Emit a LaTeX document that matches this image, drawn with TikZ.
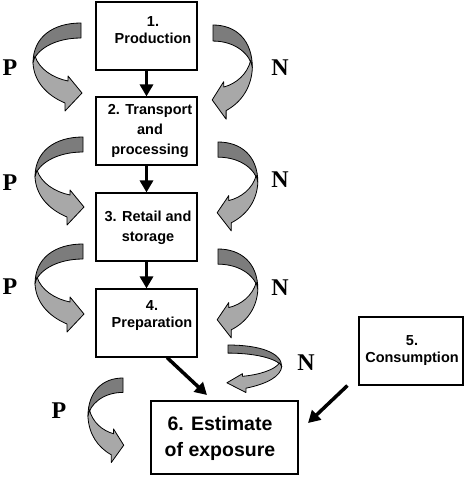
\documentclass[tikz,border=0pt]{standalone}
\usepackage{fontspec}
\setmainfont{Liberation Sans}
\newfontfamily\serifpn{Liberation Serif}
\usetikzlibrary{arrows.meta,calc}
\definecolor{ribdark}{HTML}{7C7C7C}
\definecolor{riblight}{HTML}{A8A8A8}
\tikzset{
  box/.style={draw=black, line width=1.1pt, fill=white, inner sep=0pt},
  boxtext/.style={font=\bfseries\fontsize{14.5}{17}\selectfont, align=center, inner sep=0pt},
  bigtext/.style={font=\bfseries\fontsize{19.5}{26}\selectfont, align=center, inner sep=0pt},
  pnlabel/.style={font=\serifpn\bfseries\fontsize{24}{24}\selectfont, inner sep=0pt},
  flow/.style={line width=3.5pt, -{Triangle[width=13pt,length=12pt]}},
  ribbon/.style={draw=black, line width=0.8pt, line join=round},
  curvy/.pic={
    \filldraw[ribbon, fill=ribdark] (0,0) .. controls (-28,0) and (-48,14) .. (-48,40)
      .. controls (-46,28) and (-28,15) .. (0,15) -- cycle;
    \filldraw[ribbon, fill=riblight] (-48,40) .. controls (-47,58) and (-35,72) .. (-16,80)
      -- (-16,88) -- (1,70) -- (-13,53) -- (-13,58)
      .. controls (-28,55) and (-42,46) .. (-46,33) -- cycle;
  }
}
\begin{document}
\begin{tikzpicture}[x=1pt,y=-1pt]
\useasboundingbox (0,0) rectangle (464,477);
\fill[white] (0,0) rectangle (464,477);

% curved ribbon arrows
\pic at (81,23) {curvy};
\pic at (83,137) {curvy};
\pic at (83,244) {curvy};
\pic[xscale=0.73, yscale=0.96] at (123,378) {curvy};
\pic[xscale=-0.82, yscale=1.07] at (213,25) {curvy};
\pic[xscale=-0.83, yscale=1.01] at (218,142) {curvy};
\pic[xscale=-0.83, yscale=1.01] at (218,249) {curvy};
\pic[xscale=-1.12, yscale=0.54] at (228,345) {curvy};

% P / N labels
\node[pnlabel] (p1) at (10,68) {P};
\node[pnlabel] (p2) at (10,183) {P};
\node[pnlabel] (p3) at (10,287) {P};
\node[pnlabel] (p4) at (59,411) {P};
\node[pnlabel] (n1) at (280,68) {N};
\node[pnlabel] (n2) at (280,180) {N};
\node[pnlabel] (n3) at (280,288) {N};
\node[pnlabel] (n4) at (306,363) {N};

% boxes
\node[box, minimum width=101pt, minimum height=68pt] (b1) at (146.5,36) {};
\node[box, minimum width=101pt, minimum height=68pt] (b2) at (146.5,131) {};
\node[box, minimum width=101pt, minimum height=68pt] (b3) at (146.5,227) {};
\node[box, minimum width=101pt, minimum height=68pt] (b4) at (146.5,323) {};
\node[box, minimum width=104pt, minimum height=68pt] (b5) at (411,351) {};
\node[box, minimum width=147pt, minimum height=73pt] (b6) at (224.5,437.5) {};

\node[boxtext] (t1) at (153,30) {1.\\Production};
\node[boxtext, font=\bfseries\fontsize{14.5}{20}\selectfont] (t2) at (150,131) {2. Transport\\and\\processing};
\node[boxtext, font=\bfseries\fontsize{14.5}{20}\selectfont] (t3) at (148,228) {3. Retail and\\storage};
\node[boxtext] (t4) at (152,316) {4.\\Preparation};
\node[boxtext] (t5) at (412,351) {5.\\Consumption};
\node[bigtext] (t6) at (220,438) {6. Estimate\\of exposure};

% connectors
\draw[flow] (b1) -- (b2);
\draw[flow] (b2) -- (b3);
\draw[flow] (b3) -- (b4);
\coordinate (e46) at (207,395);
\draw[flow] ($(b4.south)+(20.5,0)$) -- (e46);
\coordinate (e56) at (308,423);
\draw[flow] ($(b5.south west)+(-11,0)$) -- (e56);
\end{tikzpicture}
\end{document}
